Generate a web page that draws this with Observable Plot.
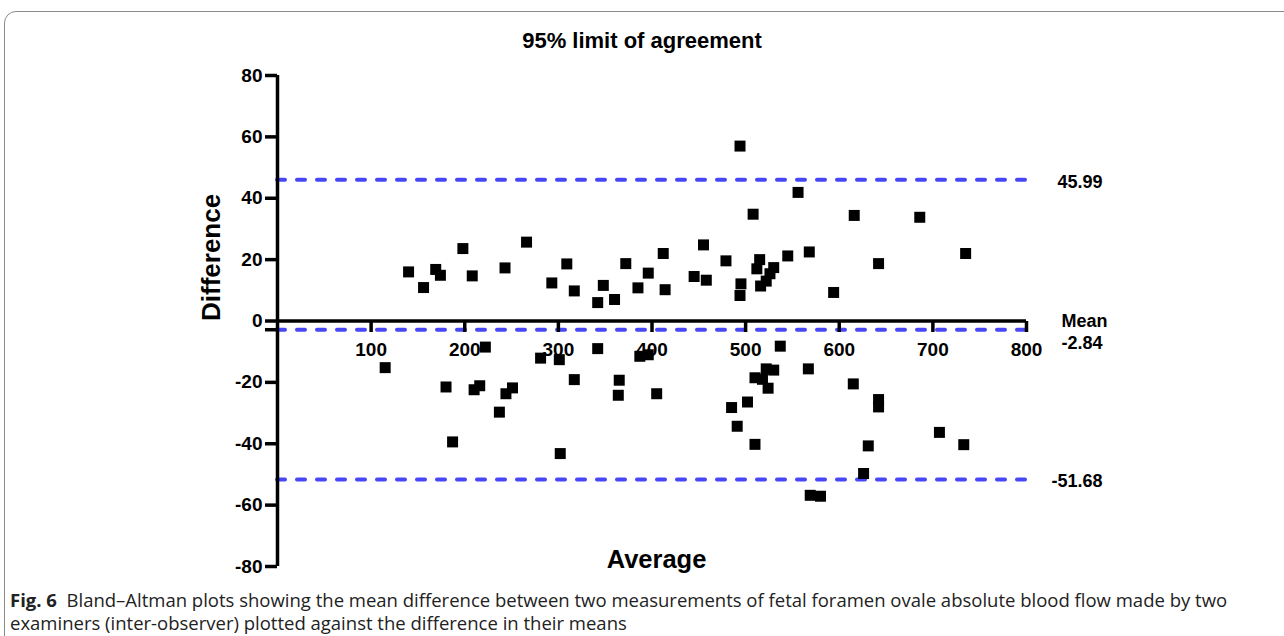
<!DOCTYPE html>
<html>
<head>
<meta charset="utf-8">
<script src="https://cdn.jsdelivr.net/npm/d3@7"></script>
<script src="https://cdn.jsdelivr.net/npm/@observablehq/plot@0.6"></script>
<style>
  html, body { margin: 0; padding: 0; background: #fff; }
  body { width: 1284px; height: 636px; position: relative; overflow: hidden; }
  #frame { position: absolute; left: 4px; top: 11px; width: 1300px; height: 700px;
           border: 1.5px solid #8a8a8a; border-radius: 12px; box-sizing: border-box; }
  #title { position: absolute; left: 0; top: 30px; width: 1284px; text-align: center;
           font: bold 22px "Liberation Sans", Arial, sans-serif; line-height: 22px; color: #000; }
  #chart { position: absolute; left: 0; top: 0; }
  #caption { position: absolute; left: 10px; top: 589px; font-family: "Open Sans", sans-serif;
             font-size: 18.5px; line-height: 22.5px; color: #222; white-space: nowrap; }
  #caption b { font-weight: bold; }
</style>
</head>
<body>
<div id="frame"></div>
<div id="title">95% limit of agreement</div>
<div id="chart"></div>
<div id="caption"><span id="line1"><b>Fig. 6</b>&nbsp; Bland–Altman plots showing the mean difference between two measurements of fetal foramen ovale absolute blood flow made by two</span><br>examiners (inter-observer) plotted against the difference in their means</div>
<script>
// Data
const average = [140,156,169,174,198,208,243,266,293,309,317,342,348,360,372,385,396,412,414,445,455,458,479,495,494,494,508,515,512,516,522,526,530,545,556,568,594,616,642,686,735,
  115,180,187,210,216,222,237,244,251,281,301,302,317,342,364,365,387,396,405,485,491,502,510,510,518,522,524,530,537,567,569,580,615,626,631,642,642,707,733];
const difference = [16.0,10.9,16.8,14.9,23.6,14.7,17.3,25.7,12.4,18.6,9.8,6.0,11.6,7.0,18.7,10.8,15.6,22.0,10.2,14.5,24.8,13.3,19.6,12.1,8.3,57.0,34.8,20.0,17.0,11.4,13.0,15.4,17.4,21.2,41.9,22.5,9.3,34.4,18.7,33.8,22.0,
  -15.2,-21.5,-39.4,-22.4,-21.1,-8.5,-29.7,-23.7,-21.8,-12.1,-12.6,-43.2,-19.1,-9.0,-24.2,-19.3,-11.5,-11.0,-23.7,-28.2,-34.3,-26.4,-18.5,-40.2,-19.0,-15.6,-21.9,-16.0,-8.2,-15.6,-56.8,-57.1,-20.5,-49.7,-40.7,-25.6,-28.0,-36.3,-40.3];
const upperLimit = 45.99;
const meanDiff = -2.84;
const lowerLimit = -51.68;
const yTicks = [-80, -60, -40, -20, 0, 20, 40, 60, 80];
const xTicks = [100, 200, 300, 400, 500, 600, 700, 800];
const xAxisLabel = "Average";
const yAxisLabel = "Difference";

const points = average.map((a, i) => ({avg: a, diff: difference[i]}));
const limitLines = [upperLimit, meanDiff, lowerLimit];

const blue = "#4747f7";
const tickDown = { draw(ctx) { ctx.moveTo(0, 0); ctx.lineTo(0, 11); } };
const bold = {fontWeight: "bold", fontFamily: "Liberation Sans, Arial, sans-serif", fill: "#000"};

const chart = Plot.plot({
  width: 1284, height: 590,
  marginLeft: 277, marginRight: 258, marginTop: 75, marginBottom: 24,
  x: {domain: [0, 800], axis: null},
  y: {domain: [-80, 80], axis: null},
  style: {overflow: "visible", background: "transparent"},
  marks: [
    Plot.ruleY(limitLines, {y: d => d, x1: 0, x2: 800, stroke: blue, strokeWidth: 4,
      strokeDasharray: "8 12", strokeLinecap: "round"}),
    Plot.ruleX([0], {y1: -80, y2: 80, stroke: "#000", strokeWidth: 3.5}),
    Plot.ruleY([0], {x1: 0, x2: 800, stroke: "#000", strokeWidth: 3.5}),
    Plot.axisY({ticks: yTicks, tickSize: 12, tickPadding: 3, stroke: "#000", strokeWidth: 3.5,
      fontSize: 19, ...bold, tickFormat: d => String(d), label: null}),
    Plot.axisY({ticks: [meanDiff], tickSize: 12, stroke: "#000", strokeWidth: 3.5,
      tickFormat: () => "", label: null}),
    Plot.dot(xTicks, {x: d => d, y: () => 0, symbol: tickDown, r: 6, stroke: "#000",
      strokeWidth: 3.5, fill: "none"}),
    Plot.text(xTicks, {x: d => d, y: () => 0, dy: 29.3, text: d => String(d), fontSize: 19, ...bold}),
    Plot.dot(points, {x: "avg", y: "diff", symbol: "square", r: 6.2, fill: "#000", stroke: "none"}),
    Plot.text([upperLimit, lowerLimit], {y: d => d, frameAnchor: "right", dx: 76, dy: 2,
      textAnchor: "end", text: d => d.toFixed(2), fontSize: 18, ...bold}),
    Plot.text([meanDiff], {y: d => d, frameAnchor: "right", dx: 35, dy: 1, textAnchor: "start",
      lineHeight: 1.22, text: d => "Mean\n" + d.toFixed(2), fontSize: 18, ...bold}),
    Plot.text([xAxisLabel], {frameAnchor: "bottom", lineAnchor: "bottom", dy: 1, dx: 4.5,
      text: d => d, fontSize: 25.5, ...bold}),
    Plot.text([yAxisLabel], {frameAnchor: "left", lineAnchor: "bottom", rotate: -90, dx: -58,
      text: d => d, fontSize: 26, ...bold})
  ]
});
document.getElementById("chart").appendChild(chart);
</script>
</body>
</html>
